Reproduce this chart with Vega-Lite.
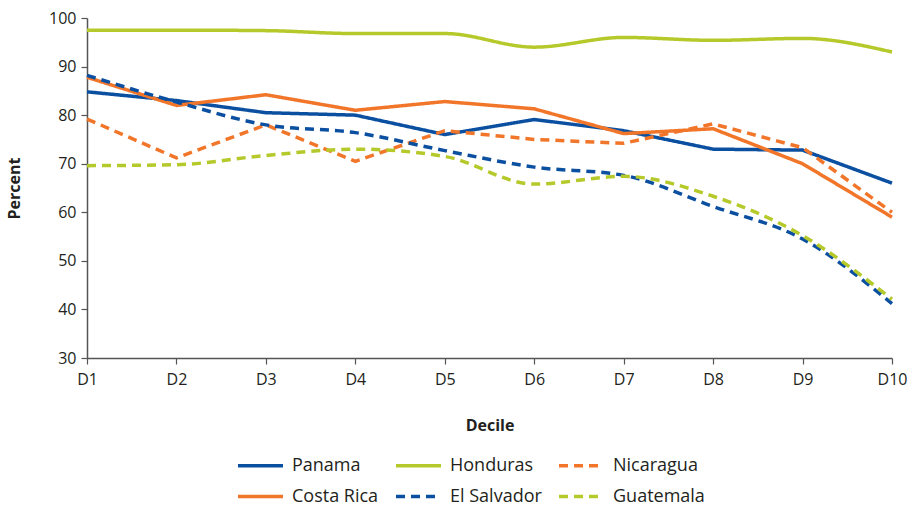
{
  "$schema": "https://vega.github.io/schema/vega-lite/v6.json",
  "width": 805,
  "height": 340,
  "autosize": {"type": "none"},
  "padding": {"left": 87, "top": 18, "right": 18, "bottom": 150},
  "config": {
    "font": "Open Sans",
    "view": {"stroke": null},
    "axis": {"grid": false, "labelFont": "Open Sans", "labelFontSize": 16, "labelColor": "#231f20", "titleFont": "Open Sans", "titleFontSize": 16, "titleFontWeight": "bold", "titleColor": "#231f20", "domainColor": "#555555", "domainWidth": 1.5, "tickColor": "#555555", "tickSize": 6, "tickWidth": 1.2},
    "legend": {"labelFont": "Open Sans", "labelFontSize": 18, "labelColor": "#231f20"}
  },
  "data": {
    "values": [
      {"decile": "D1", "country": "Panama", "value": 84.8},
      {"decile": "D2", "country": "Panama", "value": 83.0},
      {"decile": "D3", "country": "Panama", "value": 80.5},
      {"decile": "D4", "country": "Panama", "value": 80.0},
      {"decile": "D5", "country": "Panama", "value": 76.0},
      {"decile": "D6", "country": "Panama", "value": 79.1},
      {"decile": "D7", "country": "Panama", "value": 76.8},
      {"decile": "D8", "country": "Panama", "value": 73.0},
      {"decile": "D9", "country": "Panama", "value": 72.8},
      {"decile": "D10", "country": "Panama", "value": 66.0},
      {"decile": "D1", "country": "Honduras", "value": 97.5},
      {"decile": "D2", "country": "Honduras", "value": 97.5},
      {"decile": "D3", "country": "Honduras", "value": 97.4},
      {"decile": "D4", "country": "Honduras", "value": 96.8},
      {"decile": "D5", "country": "Honduras", "value": 96.8},
      {"decile": "D6", "country": "Honduras", "value": 94.0},
      {"decile": "D7", "country": "Honduras", "value": 96.0},
      {"decile": "D8", "country": "Honduras", "value": 95.4},
      {"decile": "D9", "country": "Honduras", "value": 95.8},
      {"decile": "D10", "country": "Honduras", "value": 93.0},
      {"decile": "D1", "country": "Nicaragua", "value": 79.2},
      {"decile": "D2", "country": "Nicaragua", "value": 71.2},
      {"decile": "D3", "country": "Nicaragua", "value": 78.0},
      {"decile": "D4", "country": "Nicaragua", "value": 70.5},
      {"decile": "D5", "country": "Nicaragua", "value": 76.8},
      {"decile": "D6", "country": "Nicaragua", "value": 75.0},
      {"decile": "D7", "country": "Nicaragua", "value": 74.2},
      {"decile": "D8", "country": "Nicaragua", "value": 78.2},
      {"decile": "D9", "country": "Nicaragua", "value": 73.3},
      {"decile": "D10", "country": "Nicaragua", "value": 60.0},
      {"decile": "D1", "country": "Costa Rica", "value": 87.8},
      {"decile": "D2", "country": "Costa Rica", "value": 82.0},
      {"decile": "D3", "country": "Costa Rica", "value": 84.2},
      {"decile": "D4", "country": "Costa Rica", "value": 81.0},
      {"decile": "D5", "country": "Costa Rica", "value": 82.8},
      {"decile": "D6", "country": "Costa Rica", "value": 81.3},
      {"decile": "D7", "country": "Costa Rica", "value": 76.2},
      {"decile": "D8", "country": "Costa Rica", "value": 77.2},
      {"decile": "D9", "country": "Costa Rica", "value": 70.0},
      {"decile": "D10", "country": "Costa Rica", "value": 59.0},
      {"decile": "D1", "country": "El Salvador", "value": 88.2},
      {"decile": "D2", "country": "El Salvador", "value": 82.7},
      {"decile": "D3", "country": "El Salvador", "value": 78.0},
      {"decile": "D4", "country": "El Salvador", "value": 76.4},
      {"decile": "D5", "country": "El Salvador", "value": 72.7},
      {"decile": "D6", "country": "El Salvador", "value": 69.3},
      {"decile": "D7", "country": "El Salvador", "value": 67.6},
      {"decile": "D8", "country": "El Salvador", "value": 61.2},
      {"decile": "D9", "country": "El Salvador", "value": 54.5},
      {"decile": "D10", "country": "El Salvador", "value": 41.2},
      {"decile": "D1", "country": "Guatemala", "value": 69.6},
      {"decile": "D2", "country": "Guatemala", "value": 69.8},
      {"decile": "D3", "country": "Guatemala", "value": 71.7},
      {"decile": "D4", "country": "Guatemala", "value": 73.0},
      {"decile": "D5", "country": "Guatemala", "value": 71.5},
      {"decile": "D6", "country": "Guatemala", "value": 65.8},
      {"decile": "D7", "country": "Guatemala", "value": 67.4},
      {"decile": "D8", "country": "Guatemala", "value": 63.3},
      {"decile": "D9", "country": "Guatemala", "value": 55.2},
      {"decile": "D10", "country": "Guatemala", "value": 42.1}
    ]
  },
  "encoding": {
    "x": {"field": "decile", "type": "ordinal", "sort": ["D1","D2","D3","D4","D5","D6","D7","D8","D9","D10"], "scale": {"type": "point", "padding": 0}, "title": "Decile", "axis": {"labelAngle": 0, "labelPadding": 7, "titlePadding": 30}},
    "y": {"field": "value", "type": "quantitative", "scale": {"domain": [30, 100], "nice": false}, "title": "Percent", "axis": {"values": [30,40,50,60,70,80,90,100], "labelPadding": 5, "titlePadding": 26}},
    "color": {"field": "country", "type": "nominal", "title": null,
      "scale": {"domain": ["Panama", "Costa Rica", "Honduras", "El Salvador", "Nicaragua", "Guatemala"], "range": ["#0b4fa0", "#f2762a", "#b5c92a", "#0b4fa0", "#f2762a", "#b5c92a"]},
      "legend": {"orient": "none", "legendX": 149, "legendY": 438, "columns": 3, "symbolType": "M-1,0H5", "symbolSize": 225, "symbolStrokeWidth": 3.5, "columnPadding": 10, "rowPadding": 12, "labelOffset": 37, "symbolLimit": 0}},
    "strokeDash": {"field": "country", "type": "nominal", "title": null,
      "scale": {"domain": ["Panama", "Costa Rica", "Honduras", "El Salvador", "Nicaragua", "Guatemala"], "range": [[1,0], [1,0], [1,0], [9,6], [9,6], [9,6]]}}
  },
  "layer": [
    {
      "transform": [{"filter": {"field": "country", "oneOf": ["Panama", "Costa Rica", "Nicaragua"]}}],
      "mark": {"type": "line", "strokeWidth": 3.5, "interpolate": "linear"}
    },
    {
      "transform": [{"filter": {"field": "country", "oneOf": ["Honduras", "El Salvador", "Guatemala"]}}],
      "mark": {"type": "line", "strokeWidth": 3.5, "interpolate": "monotone"}
    }
  ]
}
